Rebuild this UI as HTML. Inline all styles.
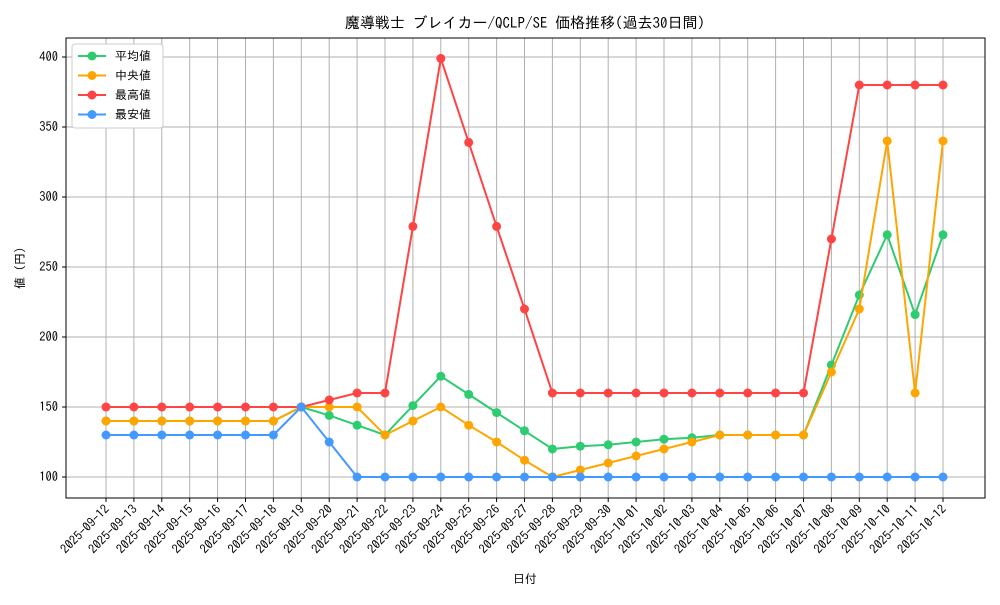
<!DOCTYPE html>
<html><head><meta charset="utf-8"><style>
body{margin:0;background:#fff;}
svg text{font-family:"IPAGothic","Noto Sans CJK JP","DejaVu Sans",sans-serif;}
</style></head><body>
<svg id="chart" width="1000" height="600" xmlns="http://www.w3.org/2000/svg">
<rect width="1000" height="600" fill="#fff"/>
<text x="525" y="28" font-size="15" text-anchor="middle">魔導戦士 ブレイカー/QCLP/SE 価格推移(過去30日間)</text>
<g id="grid"></g><g id="axes"></g><g id="series"></g>
<text x="525" y="583" font-size="12" text-anchor="middle">日付</text>
<text x="0" y="0" font-size="12" text-anchor="middle" transform="translate(24,268) rotate(-90)">値 (円)</text>
<g id="legend"></g>
</svg>
<script>
const dates=["2025-09-12","2025-09-13","2025-09-14","2025-09-15","2025-09-16","2025-09-17","2025-09-18","2025-09-19","2025-09-20","2025-09-21","2025-09-22","2025-09-23","2025-09-24","2025-09-25","2025-09-26","2025-09-27","2025-09-28","2025-09-29","2025-09-30","2025-10-01","2025-10-02","2025-10-03","2025-10-04","2025-10-05","2025-10-06","2025-10-07","2025-10-08","2025-10-09","2025-10-10","2025-10-11","2025-10-12"];
const meanVals=[140,140,140,140,140,140,140,150,144,137,130,151,172,159,146,133,120,122,123,125,127,128,130,130,130,130,180,230,273,216,273];
const medianVals=[140,140,140,140,140,140,140,150,150,150,130,140,150,137,125,112,100,105,110,115,120,125,130,130,130,130,175,220,340,160,340];
const maxVals=[150,150,150,150,150,150,150,150,155,160,160,279,399,339,279,220,160,160,160,160,160,160,160,160,160,160,270,380,380,380,380];
const minVals=[130,130,130,130,130,130,130,150,125,100,100,100,100,100,100,100,100,100,100,100,100,100,100,100,100,100,100,100,100,100,100];
const yTicks=[100,150,200,250,300,350,400];
const seriesNames=["平均値","中央値","最高値","最安値"];
const NS="http://www.w3.org/2000/svg";
const L=66,R=985,T=38,B=498;
const x=i=>106+i*(943-106)/(dates.length-1);
const y=v=>477-(v-100)*1.4;
function mk(tag,attrs,parent){const e=document.createElementNS(NS,tag);for(const k in attrs)e.setAttribute(k,attrs[k]);parent.appendChild(e);return e;}
const grid=document.getElementById('grid'),axes=document.getElementById('axes'),ser=document.getElementById('series'),leg=document.getElementById('legend');
dates.forEach((d,i)=>{
 const g=mk('line',{x1:x(i),x2:x(i),y1:T,y2:B,stroke:'#b0b0b0','stroke-width':1},grid);
 
 
 mk('line',{x1:x(i),x2:x(i),y1:B,y2:B+4,stroke:'#000'},axes);
 const t=mk('text',{x:0,y:0,'font-size':12.5,'text-anchor':'end',transform:`translate(${x(i)+4},${B+12}) rotate(-45)`},axes);
 t.textContent=d;
 
 
});
yTicks.forEach(v=>{
 const g=mk('line',{x1:L,x2:R,y1:y(v),y2:y(v),stroke:'#b0b0b0','stroke-width':1},grid);
 
 
 mk('line',{x1:L-4,x2:L,y1:y(v),y2:y(v),stroke:'#000'},axes);
 const t=mk('text',{x:L-8,y:y(v)+4,'font-size':12.5,'text-anchor':'end'},axes);
 t.textContent=v;
 
 
});
const fr=mk('rect',{x:L,y:T,width:R-L,height:B-T,fill:'none',stroke:'#000','stroke-width':1},axes);


const all=[[meanVals,'#2ecc71','mean'],[medianVals,'#ffa500','median'],[maxVals,'#ff4444','max'],[minVals,'#4499ff','min']];
all.forEach(([vals,c,n])=>{
 const p=mk('polyline',{points:vals.map((v,i)=>x(i)+','+y(v)).join(' '),fill:'none',stroke:c,'stroke-width':2},ser);
 
 
 vals.forEach((v,i)=>{
  const d=mk('circle',{cx:x(i),cy:y(v),r:4.5,fill:c},ser);
  
  
 });
});
const lb=mk('rect',{x:72,y:44,width:91,height:84,fill:'#fff',stroke:'#ccc',rx:3},leg);


all.forEach(([v,c,n],i)=>{
 const yy=56+i*19.5;
 mk('line',{x1:78,x2:106,y1:yy,y2:yy,stroke:c,'stroke-width':2},leg);
 mk('circle',{cx:92,cy:yy,r:4.5,fill:c},leg);
 const t=mk('text',{x:115,y:yy+4,'font-size':12},leg);
 t.textContent=seriesNames[i];
 
 
});
</script>
</body></html>
